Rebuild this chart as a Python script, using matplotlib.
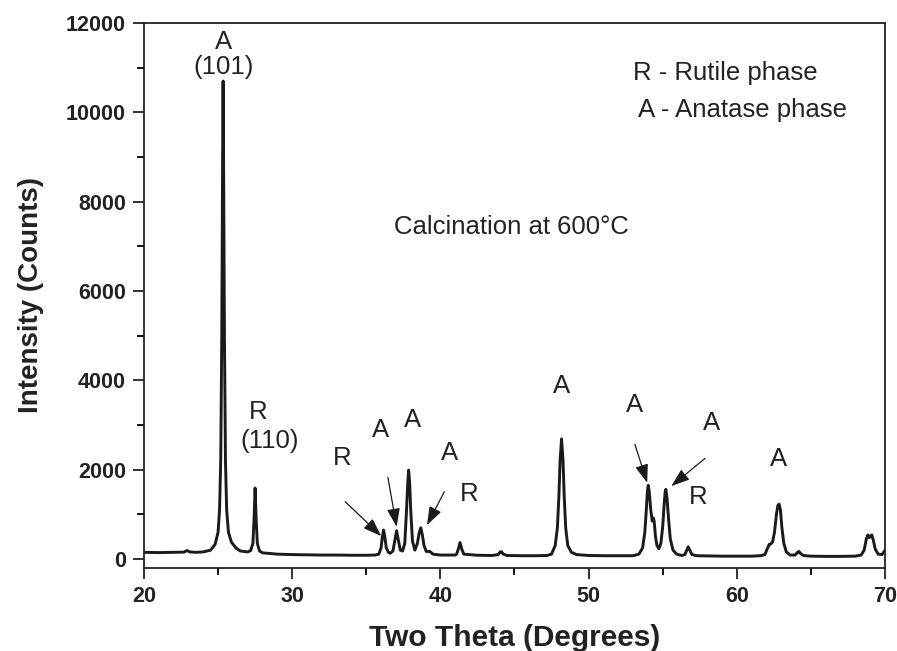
import matplotlib
matplotlib.use("Agg")
import matplotlib.pyplot as plt
from matplotlib.ticker import MultipleLocator

plt.rcParams['font.family'] = ['Liberation Sans', 'DejaVu Sans']

# XRD trace (two theta in degrees, counts)
two_theta = [20.0, 21.0, 22.0, 22.7, 22.9, 23.1, 23.5, 24.0, 24.5, 24.8, 25.0, 25.1,
             25.18, 25.25, 25.3, 25.34, 25.38, 25.43, 25.5, 25.58, 25.7, 25.9, 26.2, 26.5,
             27.0, 27.2, 27.35, 27.43, 27.5, 27.57, 27.65, 27.8, 28.0, 29.0, 30.0, 31.0,
             32.0, 33.0, 34.0, 35.0, 35.6, 35.85, 36.0, 36.08, 36.17, 36.26, 36.35, 36.5,
             36.62, 36.8, 36.93, 37.05, 37.15, 37.3, 37.45, 37.6, 37.72, 37.8, 37.86, 37.93,
             38.0, 38.12, 38.28, 38.45, 38.58, 38.68, 38.78, 38.9, 39.05, 39.3, 39.5, 40.0,
             41.0, 41.1, 41.22, 41.33, 41.44, 41.58, 42.5, 43.5, 43.9, 44.05, 44.12, 44.25,
             44.5, 45.5, 46.5, 47.2, 47.5, 47.75, 47.9, 48.0, 48.08, 48.18, 48.28, 48.36,
             48.46, 48.6, 48.85, 49.2, 50.0, 51.0, 52.0, 53.0, 53.4, 53.65, 53.8, 53.9,
             53.97, 54.03, 54.1, 54.2, 54.3, 54.37, 54.43, 54.52, 54.62, 54.75, 54.88, 55.0,
             55.1, 55.17, 55.22, 55.3, 55.4, 55.52, 55.7, 55.95, 56.3, 56.5, 56.63, 56.73,
             56.83, 56.98, 57.3, 58.0, 59.0, 60.0, 61.0, 61.6, 61.9, 62.05, 62.2, 62.3,
             62.42, 62.55, 62.68, 62.78, 62.86, 62.95, 63.05, 63.18, 63.35, 63.6, 63.95, 64.1,
             64.2, 64.32, 64.5, 65.0, 66.0, 67.0, 68.0, 68.4, 68.6, 68.75, 68.85, 68.95,
             69.05, 69.12, 69.22, 69.35, 69.55, 69.8, 69.95, 70.0]
counts = [150, 145, 150, 155, 190, 160, 150, 160, 200, 330, 600, 1100,
          2200, 5000, 8500, 10700, 8500, 5000, 2200, 1100, 600, 380, 250, 180,
          160, 190, 350, 900, 1590, 900, 350, 180, 140, 110, 100, 95,
          90, 90, 85, 85, 90, 110, 250, 480, 650, 480, 250, 150,
          130, 180, 420, 635, 450, 200, 180, 350, 1100, 1700, 1990, 1700,
          1100, 400, 200, 350, 600, 700, 550, 300, 170, 170, 110, 90,
          90, 110, 230, 370, 230, 110, 85, 80, 100, 160, 165, 110,
          80, 75, 75, 80, 110, 300, 700, 1400, 2200, 2690, 2200, 1400,
          700, 300, 150, 100, 80, 75, 75, 75, 110, 250, 600, 1100,
          1500, 1650, 1500, 1100, 850, 920, 850, 500, 300, 230, 350, 700,
          1200, 1500, 1560, 1350, 900, 450, 200, 110, 80, 100, 200, 275,
          200, 100, 75, 70, 65, 65, 65, 75, 100, 220, 330, 340,
          380, 600, 1000, 1200, 1230, 1100, 700, 350, 160, 90, 90, 150,
          170, 120, 80, 65, 60, 60, 65, 90, 200, 450, 540, 480,
          520, 540, 420, 220, 110, 100, 170, 190]

# peak labels: text, x, y
peak_labels = ["A\n(101)", "R", "(110)", "R", "A", "A", "A", "R", "A", "A", "A", "R", "A"]
label_x = [25.34, 27.7, 28.5, 33.38, 35.95, 38.1, 40.6, 41.95, 48.18, 53.1, 58.3, 57.4, 62.84]
label_y = [11300, 3290, 2650, 2260, 2890, 3110, 2370, 1455, 3880, 3450, 3050, 1390, 2240]

# arrows: (start x, start y) -> (end x, end y)
arrow_start = [(33.58, 1285), (36.46, 1828), (40.27, 1507), (53.13, 2567), (57.86, 2254)]
arrow_end = [(36.01, 515), (37.05, 723), (39.1, 761), (53.96, 1708), (55.59, 1634)]

fig = plt.figure(figsize=(8.97, 6.51), dpi=100)
ax = fig.add_axes([0.1605, 0.1275, 0.826, 0.8372])

ax.plot(two_theta, counts, color='#1a1a1a', lw=2.1)

for txt, x, y in zip(peak_labels, label_x, label_y):
    ax.text(x, y, txt, ha='center', va='center', fontsize=18.5, color='#222222',
            linespacing=1.05)

for s, e in zip(arrow_start, arrow_end):
    ax.annotate('', xy=e, xytext=s,
                arrowprops=dict(arrowstyle='-|>,head_length=0.7,head_width=0.25',
                                color='#1a1a1a', lw=0.9,
                                mutation_scale=16, shrinkA=0, shrinkB=0))

ax.text(53.0, 10880, 'R - Rutile phase', ha='left', va='center', fontsize=18.5, color='#222222')
ax.text(53.35, 10050, 'A - Anatase phase', ha='left', va='center', fontsize=18.5, color='#222222')
ax.text(36.85, 7440, 'Calcination at 600°C', ha='left', va='center', fontsize=18.5, color='#222222')

ax.set_xlim(20, 70)
ax.set_ylim(-200, 12000)
ax.xaxis.set_major_locator(MultipleLocator(10))
ax.xaxis.set_minor_locator(MultipleLocator(5))
ax.yaxis.set_major_locator(MultipleLocator(2000))
ax.yaxis.set_minor_locator(MultipleLocator(1000))
ax.tick_params(which='major', direction='out', length=8, width=1.3, labelsize=15.5, pad=5,
               colors='#222222')
ax.tick_params(which='minor', direction='out', length=5, width=1.3)
for lab in ax.get_xticklabels() + ax.get_yticklabels():
    lab.set_fontweight('bold')
for sp in ax.spines.values():
    sp.set_linewidth(1.3)
    sp.set_color('#222222')

ax.set_xlabel('Two Theta (Degrees)', fontsize=21.5, fontweight='bold', color='#222222', labelpad=12)
ax.set_ylabel('Intensity (Counts)', fontsize=20, fontweight='bold', color='#222222', labelpad=16)

fig.savefig('out.png', dpi=100)
